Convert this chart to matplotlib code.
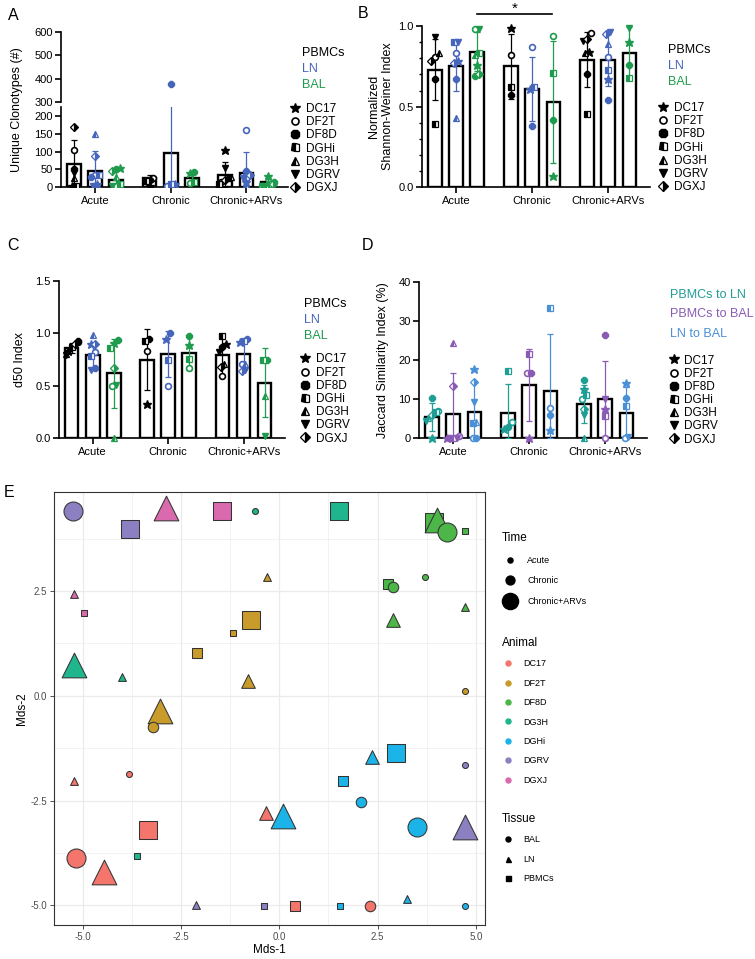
import numpy as np
import matplotlib.pyplot as plt
from matplotlib.lines import Line2D

plt.rcParams['font.family'] = ['Liberation Sans', 'DejaVu Sans']
plt.rcParams['axes.unicode_minus'] = False

W, H = 755, 959

groups = ['Acute', 'Chronic', 'Chronic+ARVs']
tissues = ['PBMCs', 'LN', 'BAL']
comparisons = ['PBMCs to LN', 'PBMCs to BAL', 'LN to BAL']
animals = ['DC17', 'DF2T', 'DF8D', 'DGHi', 'DG3H', 'DGRV', 'DGXJ']

tissue_colors = ['#000000', '#4666BC', '#1E9B4C']
comp_colors = ['#1F9E96', '#8A5BB5', '#4A90D6']

# A - unique clonotypes (group x tissue), points in animal order
clono_mean = [[65, 46, 21], [25, 97, 25], [35, 40, 15]]
clono_sd = [[68, 55, 25], [10, 185, 15], [35, 58, 10]]
clono_pts = [
    [[5, 105, 50, 5, 25, 40, 170], [10, 35, 30, 35, 148, 5, 88], [55, 5, 50, 10, 30, 3, 45]],
    [[5, 25, 20, 18, None, None, None], [10, 3, 375, 8, None, None, None], [40, 12, 43, 15, None, None, None]],
    [[105, 15, 25, 10, 30, 55, 20], [15, 160, 45, 30, 3, 25, 35], [32, 5, 15, 10, 5, 3, 10]],
]

# B - normalized Shannon-Weiner index
shannon_mean = [[0.73, 0.75, 0.84], [0.75, 0.61, 0.53], [0.79, 0.79, 0.83]]
shannon_sd = [[0.19, 0.155, 0.12], [0.20, 0.20, 0.38], [0.17, 0.165, 0.165]]
shannon_pts = [
    [[None, 0.81, 0.67, 0.39, 0.83, 0.93, 0.78], [0.785, 0.83, 0.67, 0.90, 0.43, 0.90, 0.77], [0.76, 0.98, 0.69, 0.83, 0.82, 0.98, 0.70]],
    [[0.99, 0.82, 0.57, 0.62, None, None, None], [0.61, 0.87, 0.38, 0.62, None, None, None], [0.07, 0.94, 0.42, 0.71, None, None, None]],
    [[0.84, 0.955, 0.70, 0.455, 0.83, 0.91, 0.92], [0.67, 0.81, 0.54, 0.73, 0.89, 0.96, 0.95], [0.90, None, 0.76, 0.68, None, 0.99, None]],
]

# C - d50 index
d50_mean = [[0.86, 0.79, 0.62], [0.75, 0.80, 0.81], [0.79, 0.80, 0.53]]
d50_sd = [[0.05, 0.12, 0.33], [0.29, 0.22, 0.16], [0.19, 0.15, 0.33]]
d50_pts = [
    [[0.83, 0.92, 0.93, 0.87, 0.80, 0.79, 0.90], [0.90, 0.82, 0.67, 0.78, 0.98, 0.65, 0.90], [0.91, 0.50, 0.94, 0.86, 0.0, 0.51, 0.67]],
    [[0.33, 0.83, 0.95, 0.93, None, None, None], [0.95, 0.50, 1.0, 0.75, None, None, None], [0.89, 0.67, 0.97, 0.755, None, None, None]],
    [[0.90, 0.59, 0.87, 0.97, 0.71, 0.82, 0.68], [0.92, 0.71, 0.95, 0.93, 0.71, 0.65, 0.64], [None, None, 0.75, 0.75, 0.40, 0.02, None]],
]

# D - Jaccard similarity (group x comparison)
jac_mean = [[5.5, 6.3, 6.8], [6.5, 13.6, 12.1], [8.7, 9.9, 6.4]]
jac_sd = [[3.6, 10.4, 7.6], [7.3, 9.3, 14.4], [4.9, 9.9, 6.6]]
jac_pts = [
    [[0.0, 7.0, 10.4, 6.7, 5.2, 4.5, 6.0], [0, 0.7, 0, 0, 24.2, 0, 13.4], [17.6, 0, 0, 3.8, 4.2, 9.3, 14.4]],
    [[2.3, 4.2, 3.0, 17.2, None, None, None], [0, 16.7, 16.7, 21.5, None, None, None], [2.0, 7.8, 5.9, 33.3, None, None, None]],
    [[12.6, 9.9, 15.0, 11.0, 0, 5.9, 7.6], [7.6, 0, 26.3, 5.8, None, 10.0, None], [14.2, 0, 10.4, 8.2, None, 0.4, None]],
]

# E - MDS
mds_animal = ['DC17'] * 8 + ['DF2T'] * 8 + ['DF8D'] * 9 + ['DG3H'] * 5 + ['DGHi'] * 9 + ['DGRV'] * 6 + ['DGXJ'] * 4
mds_tissue = ['LN', 'BAL', 'PBMCs', 'BAL', 'LN', 'LN', 'PBMCs', 'BAL',
              'LN', 'PBMCs', 'PBMCs', 'PBMCs', 'LN', 'LN', 'BAL', 'BAL',
              'PBMCs', 'LN', 'BAL', 'PBMCs', 'BAL', 'PBMCs', 'BAL', 'LN', 'LN',
              'BAL', 'PBMCs', 'LN', 'LN', 'PBMCs',
              'PBMCs', 'LN', 'PBMCs', 'BAL', 'LN', 'BAL', 'PBMCs', 'LN', 'BAL',
              'BAL', 'PBMCs', 'BAL', 'LN', 'PBMCs', 'LN',
              'LN', 'PBMCs', 'LN', 'PBMCs']
mds_time = ['Acute', 'Acute', 'Chronic+ARVs', 'Chronic+ARVs', 'Chronic+ARVs', 'Chronic', 'Chronic', 'Chronic',
            'Acute', 'Chronic+ARVs', 'Acute', 'Chronic', 'Chronic', 'Chronic+ARVs', 'Chronic', 'Acute',
            'Chronic+ARVs', 'Chronic+ARVs', 'Chronic+ARVs', 'Acute', 'Acute', 'Chronic', 'Chronic', 'Chronic', 'Acute',
            'Acute', 'Chronic+ARVs', 'Chronic+ARVs', 'Acute', 'Acute',
            'Chronic+ARVs', 'Chronic', 'Chronic', 'Chronic', 'Chronic+ARVs', 'Chronic+ARVs', 'Acute', 'Acute', 'Acute',
            'Chronic+ARVs', 'Chronic+ARVs', 'Acute', 'Chronic+ARVs', 'Acute', 'Acute',
            'Chronic+ARVs', 'Chronic+ARVs', 'Acute', 'Acute']
mds_x = [-5.22, -3.83, -3.35, -5.18, -4.46, -0.34, 0.40, 2.31,
         -0.32, -0.72, -1.17, -2.10, -0.80, -3.03, -3.22, 4.73,
         3.94, 4.00, 4.26, 4.73, 3.70, 2.77, 2.90, 2.88, 4.73,
         -0.62, 1.52, -5.22, -4.01, -3.61,
         2.97, 2.35, 1.63, 2.07, 0.09, 3.51, 1.54, 3.24, 4.73,
         -5.24, -3.80, 4.73, 4.73, -0.39, -2.13,
         -2.88, -1.47, -5.23, -4.97]
mds_y = [-2.04, -1.86, -3.21, -3.87, -4.21, -2.79, -5.02, -5.02,
         2.84, 1.82, 1.49, 1.01, 0.35, -0.36, -0.74, 0.12,
         4.15, 4.20, 3.91, 3.94, 2.84, 2.66, 2.60, 1.82, 2.12,
         4.40, 4.40, 0.74, 0.45, -3.82,
         -1.37, -1.46, -2.03, -2.54, -2.87, -3.14, -5.02, -4.84, -5.02,
         4.40, 3.97, -1.64, -3.12, -5.02, -5.00,
         4.49, 4.40, 2.43, 1.97]

mds_colors = {'DC17': '#F4756B', 'DF2T': '#C89B2B', 'DF8D': '#4DB648', 'DG3H': '#1FB68E',
              'DGHi': '#1CB4E8', 'DGRV': '#8C80C2', 'DGXJ': '#D96AAD'}
mds_order = ['DC17', 'DF2T', 'DF8D', 'DG3H', 'DGHi', 'DGRV', 'DGXJ']

fig = plt.figure(figsize=(W / 100, H / 100), dpi=100)


def px_rect(x0, y0, x1, y1):
    return [x0 / W, 1 - y1 / H, (x1 - x0) / W, (y1 - y0) / H]


def fx(x):
    return x / W


def fy(y):
    return 1 - y / H


marker_kw = {
    'DC17': dict(marker='*', ms=6.4),
    'DF2T': dict(marker='o', ms=4.2, mfc='white', mew=1.2),
    'DF8D': dict(marker='8', ms=4.8),
    'DGHi': dict(marker='s', ms=4.2, fillstyle='left', markerfacecoloralt='white', mew=0.9),
    'DG3H': dict(marker='^', ms=5.0, fillstyle='left', markerfacecoloralt='white', mew=0.9),
    'DGRV': dict(marker='v', ms=5.0),
    'DGXJ': dict(marker='D', ms=4.0, fillstyle='right', markerfacecoloralt='white', mew=0.9),
}


def spread(vals, thr, step):
    # spread points with close values sideways, like Prism scatter
    vals = np.asarray(vals, dtype=float)
    offs = np.zeros(len(vals))
    if len(vals) == 0:
        return offs
    order = np.argsort(vals)
    clusters = [[order[0]]]
    for i in order[1:]:
        if vals[i] - vals[clusters[-1][-1]] < thr:
            clusters[-1].append(i)
        else:
            clusters.append([i])
    for c in clusters:
        n = len(c)
        for k, i in enumerate(c):
            offs[i] = (k - (n - 1) / 2) * step
    return np.clip(offs, -0.08, 0.08)


def style_prism(ax):
    for s in ['top', 'right']:
        ax.spines[s].set_visible(False)
    for s in ['left', 'bottom']:
        ax.spines[s].set_linewidth(1.2)
    ax.tick_params(direction='out', length=4, width=1.2, labelsize=8, pad=2)


def bar_panel(ax, means, sds, pts, colors, ylim, clip=False):
    for g in range(3):
        for t in range(3):
            x = g + (t - 1) * 0.28
            m, s, c = means[g][t], sds[g][t], colors[t]
            ax.bar(x, m, width=0.18, color='white', edgecolor='black', linewidth=1.7, zorder=2)
            lo = max(m - s, 0)
            ax.errorbar(x, m, yerr=[[m - lo], [s]], color=c, capsize=2.5, lw=0.9,
                        capthick=0.9, zorder=3)
            vals = [(a, v) for a, v in zip(animals, pts[g][t]) if v is not None]
            offs = spread([v for _, v in vals], (ylim[1] - ylim[0]) * 0.035, 0.05)
            for (a, v), o in zip(vals, offs):
                ax.plot(x + o, v, ls='none', color=c, mec=c, zorder=4, clip_on=clip, **marker_kw[a])
    ax.set_xlim(-0.45, 2.55)
    ax.set_ylim(ylim)
    ax.set_xticks([0, 1, 2])
    ax.set_xticklabels(groups, fontsize=8)
    style_prism(ax)


def animal_legend(x0, ytop):
    handles = [Line2D([], [], ls='none', color='black', mec='black', **marker_kw[a]) for a in animals]
    fig.legend(handles, animals, loc='upper left', bbox_to_anchor=(fx(x0), fy(ytop)),
               frameon=False, fontsize=8.5, handlelength=0.8, handletextpad=0.5,
               labelspacing=0.1, borderpad=0, borderaxespad=0, markerscale=1.2)


def label_list(x, ys, labels, colors):
    for y, lab, c in zip(ys, labels, colors):
        fig.text(fx(x), fy(y), lab, color=c, fontsize=9, va='center', ha='left')


# ---------------- A (broken axis) ----------------
a_lo = fig.add_axes(px_rect(61, 107.3, 288, 187.3))
a_hi = fig.add_axes(px_rect(61, 31.7, 288, 102))
bar_panel(a_lo, clono_mean, clono_sd, clono_pts, tissue_colors, (0, 224), clip=True)
bar_panel(a_hi, clono_mean, clono_sd, clono_pts, tissue_colors, (300, 600), clip=True)
a_lo.set_yticks([0, 50, 100, 150, 200])
a_hi.set_yticks([300, 400, 500, 600])
a_hi.spines['bottom'].set_visible(False)
a_hi.tick_params(axis='x', bottom=False, labelbottom=False)
fig.text(fx(17), fy(110), 'Unique Clonotypes (#)', rotation=90, fontsize=9, ha='center', va='center')
label_list(301.7, [52.7, 69, 85.5], tissues, tissue_colors)
animal_legend(290.6, 103)

# ---------------- B ----------------
b_ax = fig.add_axes(px_rect(421.8, 26, 650, 187.3))
bar_panel(b_ax, shannon_mean, shannon_sd, shannon_pts, tissue_colors, (0, 1.0))
b_ax.set_yticks([0, 0.5, 1.0])
b_ax.set_yticklabels(['0.0', '0.5', '1.0'])
b_ax.set_yticks(np.arange(0, 1.0, 0.1), minor=True)
b_ax.tick_params(axis='y', which='minor', length=2.5, width=1.0)
b_ax.plot([0.27, 1.26], [1.074, 1.074], color='black', lw=1.2, clip_on=False)
b_ax.text(0.765, 1.15, '*', ha='center', va='top', fontsize=11)
fig.text(fx(381), fy(106), 'Normalized\nShannon-Weiner Index', rotation=90, fontsize=9,
         ha='center', va='center', multialignment='center')
label_list(668.3, [50, 66, 81.7], tissues, tissue_colors)
animal_legend(658.3, 102)

# ---------------- C ----------------
c_ax = fig.add_axes(px_rect(58.8, 280.8, 285, 438.3))
bar_panel(c_ax, d50_mean, d50_sd, d50_pts, tissue_colors, (0, 1.5))
c_ax.set_yticks([0, 0.5, 1.0, 1.5])
c_ax.set_yticklabels(['0.0', '0.5', '1.0', '1.5'])
fig.text(fx(20), fy(360), 'd50 Index', rotation=90, fontsize=9, ha='center', va='center')
label_list(304, [304, 320, 335.7], tissues, tissue_colors)
animal_legend(300.6, 353.5)

# ---------------- D ----------------
d_ax = fig.add_axes(px_rect(419, 281.5, 647, 438.3))
bar_panel(d_ax, jac_mean, jac_sd, jac_pts, comp_colors, (0, 40))
d_ax.set_yticks([0, 10, 20, 30, 40])
fig.text(fx(383), fy(360), 'Jaccard Similarity Index (%)', rotation=90, fontsize=9, ha='center', va='center')
label_list(670, [295, 314.3, 334.3], comparisons, comp_colors)
animal_legend(669, 354.5)

# panel letters
for lab, x, y in [('A', 8, 15), ('B', 358, 13), ('C', 7, 245), ('D', 362, 245), ('E', 4, 492)]:
    fig.text(fx(x), fy(y), lab, fontsize=11.5, ha='left', va='center')

# ---------------- E ----------------
e_ax = fig.add_axes(px_rect(54, 491.7, 485, 925))
shape_map = {'BAL': 'o', 'LN': '^', 'PBMCs': 's'}
size_map = {'Acute': 6, 'Chronic': 10.5, 'Chronic+ARVs': 19}
shape_scale = {'o': 1.0, 's': 0.95, '^': 1.3}
for a, t, tm, x, y in zip(mds_animal, mds_tissue, mds_time, mds_x, mds_y):
    mk = shape_map[t]
    d = size_map[tm] * shape_scale[mk] / 1.389
    e_ax.scatter(x, y, s=d ** 2, marker=mk, c=mds_colors[a], edgecolors='#333333',
                 linewidths=0.75, zorder=3)
e_ax.set_xlim(-5.73, 5.23)
e_ax.set_ylim(-5.47, 4.87)
e_ax.set_xticks([-5, -2.5, 0, 2.5, 5])
e_ax.set_xticklabels(['-5.0', '-2.5', '0.0', '2.5', '5.0'])
e_ax.set_yticks([-5, -2.5, 0, 2.5])
e_ax.set_yticklabels(['-5.0', '-2.5', '0.0', '2.5'])
e_ax.set_xticks([-3.75, -1.25, 1.25, 3.75], minor=True)
e_ax.set_yticks([-3.75, -1.25, 1.25, 3.75], minor=True)
e_ax.grid(which='major', color='#EBEBEB', lw=0.9)
e_ax.grid(which='minor', color='#EBEBEB', lw=0.45)
e_ax.set_axisbelow(True)
for s in e_ax.spines.values():
    s.set_color('#333333')
    s.set_linewidth(0.8)
e_ax.tick_params(which='major', length=2.8, width=0.6, color='#333333', labelsize=7,
                 labelcolor='#4D4D4D', pad=2)
e_ax.tick_params(which='minor', length=0)
e_ax.set_xlabel('Mds-1', fontsize=8.5, labelpad=2)
e_ax.set_ylabel('Mds-2', fontsize=8.5, labelpad=2)

time_handles = [Line2D([], [], ls='none', marker='o', color='black', ms=size_map[tm] * 0.85 / 1.389)
                for tm in groups]
fig.legend(time_handles, groups, loc='upper left', bbox_to_anchor=(fx(502), fy(532)),
           frameon=False, fontsize=6.5, title='Time', title_fontsize=8.5, alignment='left',
           handlelength=1.8, handletextpad=1.0, labelspacing=1.3, borderpad=0, borderaxespad=0)
animal_handles = [Line2D([], [], ls='none', marker='o', color=mds_colors[a], ms=3.6) for a in mds_order]
fig.legend(animal_handles, mds_order, loc='upper left', bbox_to_anchor=(fx(502), fy(637)),
           frameon=False, fontsize=6.5, title='Animal', title_fontsize=8.5, alignment='left',
           handlelength=1.4, handletextpad=1.0, labelspacing=1.15, borderpad=0, borderaxespad=0)
tissue_handles = [Line2D([], [], ls='none', marker=shape_map[t], color='black', ms=3.6)
                  for t in ['BAL', 'LN', 'PBMCs']]
fig.legend(tissue_handles, ['BAL', 'LN', 'PBMCs'], loc='upper left', bbox_to_anchor=(fx(502), fy(813)),
           frameon=False, fontsize=6.5, title='Tissue', title_fontsize=8.5, alignment='left',
           handlelength=1.4, handletextpad=1.0, labelspacing=1.15, borderpad=0, borderaxespad=0)

fig.savefig('out.png', dpi=100)
